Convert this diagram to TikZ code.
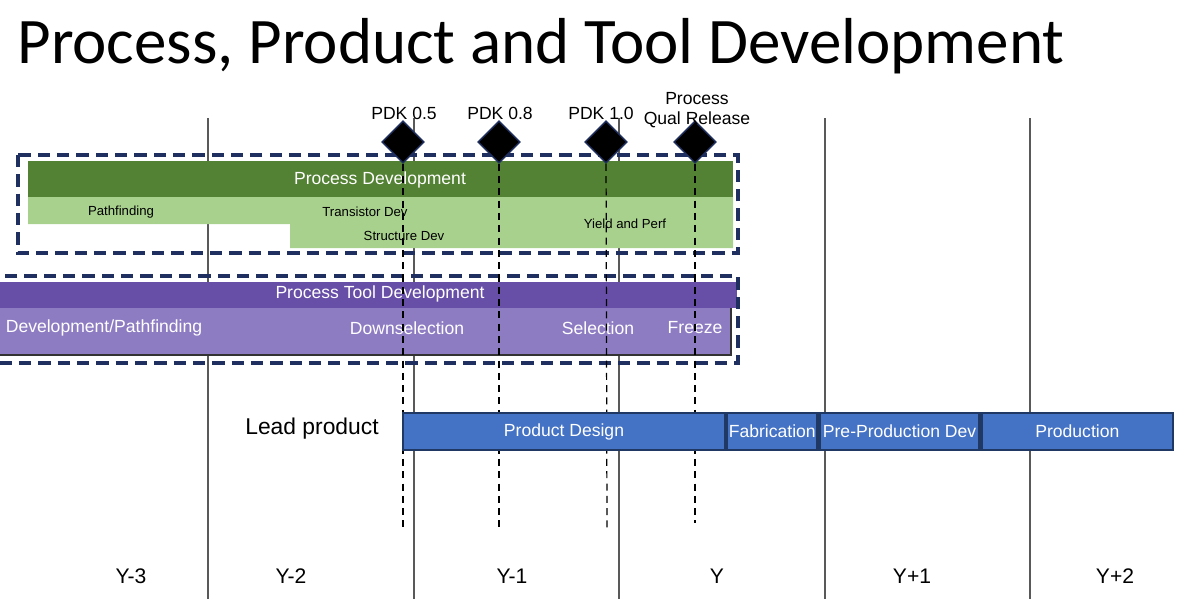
\documentclass[tikz,border=0pt]{standalone}
\usepackage{fontspec}
\setmainfont{Liberation Sans}
\newfontfamily\titlefont{Carlito}
\usetikzlibrary{shapes.geometric,positioning}

\definecolor{navy}{HTML}{1F2F5F}
\definecolor{darkgreen}{HTML}{548235}
\definecolor{lightgreen}{HTML}{A9D18E}
\definecolor{darkpurple}{HTML}{674EA7}
\definecolor{lightpurple}{HTML}{8E7CC3}
\definecolor{blueband}{HTML}{4472C4}
\definecolor{blueedge}{HTML}{203864}

\tikzstyle{year} = [font=\fontsize{12}{14}\selectfont]
\tikzstyle{grid} = [gray!70!black, line width=0.7pt]
\tikzstyle{group} = [navy, line width=1.8pt, dash pattern=on 7pt off 4pt]
\tikzstyle{small} = [font=\fontsize{7.5}{9}\selectfont]
\tikzstyle{bartext} = [white, font=\fontsize{10}{12}\selectfont]
\tikzstyle{milestone} = [diamond, fill=black, draw=navy, line width=0.8pt, minimum width=24pt, minimum height=24pt, inner sep=0pt]
\tikzstyle{msline} = [black, line width=0.7pt, dash pattern=on 4pt off 3pt]
\tikzstyle{phase} = [rectangle, draw=blueedge, line width=1.3pt, fill=blueband, minimum height=37*0.02cm, text=white, font=\fontsize{10}{12}\selectfont, inner sep=0pt]

\begin{document}
\begin{tikzpicture}[x=0.02cm, y=-0.02cm]
  \useasboundingbox (0,0) rectangle (1187,599);

  \node (title) at (541,46) {\titlefont\fontsize{37}{40}\selectfont Process, Product and Tool Development};

  % year grid
  \foreach \gx in {208,414,619,825,1030}
    \draw [grid] (\gx,118) -- (\gx,599);
  \node (y3) [year] at (131,576) {Y-3};
  \node (y2) [year] at (291,576) {Y-2};
  \node (y1) [year] at (512,576) {Y-1};
  \node (y0) [year] at (717,576) {Y};
  \node (yp1) [year] at (912,576) {Y+1};
  \node (yp2) [year] at (1115,576) {Y+2};

  % process development
  \fill [lightgreen] (28,197) -- (733,197) -- (733,248) -- (290,248) -- (290,224) -- (28,224) -- cycle;
  \fill [darkgreen] (28,161) rectangle (733,197);
  \node (procdev) [bartext] at (380,180) {Process Development};
  \node (pathf) [small] at (121,212) {Pathfinding};
  \node (trans) [small] at (365,212) {Transistor Dev};
  \node (struct) [small] at (404,236) {Structure Dev};
  \node (yield) [small] at (625,224) {Yield and Perf};
  \draw [group] (18,155) rectangle (738,253);

  % process tool development
  \fill [lightpurple] (-5,308) rectangle (731,355);
  \draw [black!80, line width=1.5pt] (-5,355) -- (731,355) -- (731,308);
  \fill [darkpurple] (-5,282) rectangle (737,308);
  \node (tooldev) [bartext] at (380,294) {Process Tool Development};
  \node (devpath) [bartext] at (104,328) {Development/Pathfinding};
  \node (down) [bartext] at (407,328) {Downselection};
  \node (sel) [bartext] at (598,328) {Selection};
  \node (freeze) [bartext] at (695,328) {Freeze};
  \draw [group] (-10,276) rectangle (738,363);

  % milestones
  \node (pdk05) [milestone] at (403,142) {};
  \node (pdk08) [milestone] at (499,142) {};
  \node (pdk10) [milestone] at (606,142) {};
  \node (qual) [milestone] at (695,142) {};
  \node [year, font=\fontsize{10}{12}\selectfont] at (404,113) {PDK 0.5};
  \node [year, font=\fontsize{10}{12}\selectfont] at (500,113) {PDK 0.8};
  \node [year, font=\fontsize{10}{12}\selectfont] at (601,113) {PDK 1.0};
  \node [align=center, font=\fontsize{10}{11}\selectfont] at (697,110) {Process\\Qual Release};
  \coordinate (e05) at (403,532);
  \coordinate (e08) at (499,530);
  \coordinate (e10) at (607,528);
  \coordinate (eq) at (695,523);
  \draw [msline] (pdk05) -- (e05);
  \draw [msline] (pdk08) -- (e08);
  \draw [msline] (pdk10) -- (e10);
  \draw [msline] (qual) -- (eq);

  % lead product
  \node (lead) [font=\fontsize{13}{15}\selectfont] at (312,429) {Lead product};
  \node (design) [phase, minimum width=322*0.02cm] at (564,431.5) {Product Design};
  \node (fab) [phase, minimum width=90*0.02cm, right=0pt of design] {Fabrication};
  \node (preprod) [phase, minimum width=160*0.02cm, right=0pt of fab] {Pre-Production Dev};
  \node (prod) [phase, minimum width=191*0.02cm, right=0pt of preprod] {Production};
\end{tikzpicture}
\end{document}
